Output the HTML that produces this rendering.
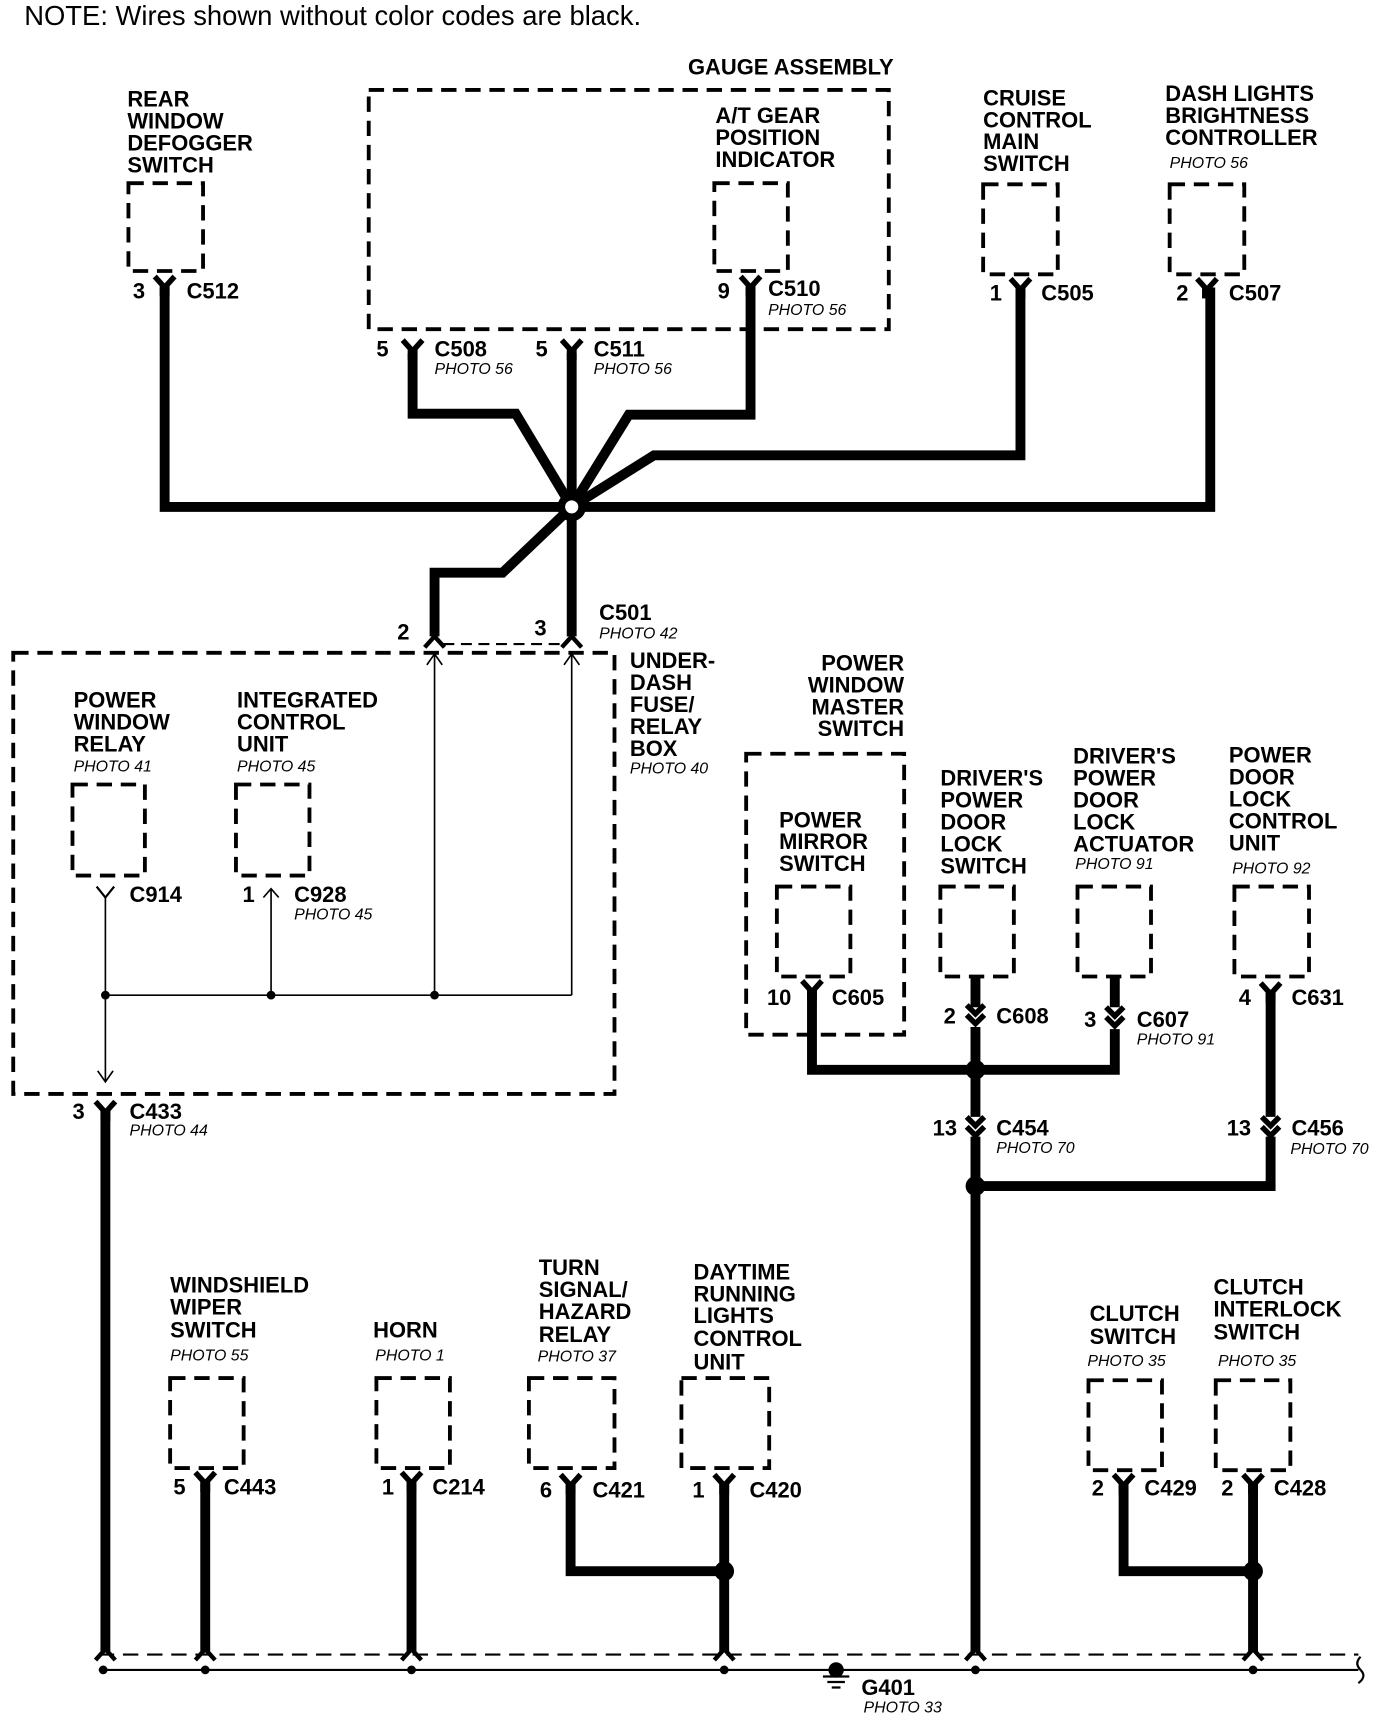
<!DOCTYPE html>
<html><head><meta charset="utf-8"><style>
html,body{margin:0;padding:0;background:#fff;}
svg{display:block;}
.b{font-family:"Liberation Sans",sans-serif;font-weight:bold;font-size:20px;fill:#000;}
.p{font-family:"Liberation Sans",sans-serif;font-style:italic;font-size:14.5px;fill:#000;}
.n{font-family:"Liberation Sans",sans-serif;font-size:25px;fill:#000;}
.box{fill:none;stroke:#000;stroke-width:3.5;stroke-dasharray:14 8;}
.w{fill:none;stroke:#000;stroke-width:9;stroke-linejoin:miter;}
.t{fill:none;stroke:#000;stroke-width:1.5;}
</style></head><body>
<svg width="1376" height="1716" viewBox="0 0 1254 1564" xmlns="http://www.w3.org/2000/svg">
<defs>
<g id="Y"><path d="M-9,-8 L0,2 L9,-8" fill="none" stroke="#000" stroke-width="5"/><rect x="-4.5" y="0" width="9" height="10" fill="#000"/></g>
<g id="YT"><path d="M-8,-10 L0,0 L8,-10" fill="none" stroke="#000" stroke-width="2"/></g>
<g id="DC"><path d="M-8,-10 L0,-2 L8,-10 M-8,-1 L0,7 L8,-1" fill="none" stroke="#000" stroke-width="5"/></g>
<g id="L"><path d="M-9,6 L0,-4 L9,6" fill="none" stroke="#000" stroke-width="4"/></g>
</defs>
<text class="n" x="22" y="23">NOTE: Wires shown without color codes are black.</text>

<text class="b" x="116" y="97">REAR</text><text class="b" x="116" y="117">WINDOW</text><text class="b" x="116" y="137">DEFOGGER</text><text class="b" x="116" y="157">SWITCH</text>
<rect class="box" x="117" y="167" width="68" height="80"/>
<use href="#Y" x="150" y="260"/>
<text class="b" x="121" y="272">3</text><text class="b" x="170" y="272">C512</text>

<text class="b" x="627" y="68">GAUGE ASSEMBLY</text>
<rect class="box" x="336" y="82" width="474" height="218"/>
<text class="b" x="652" y="112">A/T GEAR</text><text class="b" x="652" y="132">POSITION</text><text class="b" x="652" y="152">INDICATOR</text>
<rect class="box" x="651" y="167" width="67" height="80"/>
<use href="#Y" x="684" y="260"/>
<text class="b" x="654" y="272">9</text><text class="b" x="700" y="270">C510</text><text class="p" x="700" y="287">PHOTO 56</text>
<use href="#Y" x="376" y="318"/><text class="b" x="343" y="325">5</text><text class="b" x="396" y="325">C508</text><text class="p" x="396" y="341">PHOTO 56</text>
<use href="#Y" x="521" y="318"/><text class="b" x="488" y="325">5</text><text class="b" x="541" y="325">C511</text><text class="p" x="541" y="341">PHOTO 56</text>

<text class="b" x="896" y="96">CRUISE</text><text class="b" x="896" y="116">CONTROL</text><text class="b" x="896" y="136">MAIN</text><text class="b" x="896" y="156">SWITCH</text>
<rect class="box" x="896" y="168" width="68" height="82"/>
<use href="#Y" x="930" y="262"/><text class="b" x="902" y="274">1</text><text class="b" x="949" y="274">C505</text>

<text class="b" x="1062" y="92">DASH LIGHTS</text><text class="b" x="1062" y="112">BRIGHTNESS</text><text class="b" x="1062" y="132">CONTROLLER</text><text class="p" x="1066" y="153">PHOTO 56</text>
<rect class="box" x="1066" y="168" width="68" height="82"/>
<use href="#Y" x="1100" y="262"/><text class="b" x="1072" y="274">2</text><text class="b" x="1120" y="274">C507</text>

<path class="w" d="M150,262 V462 H1103 V262"/>
<path class="w" d="M376,322 V377 H470 L521,462"/>
<path class="w" d="M521,322 V462"/>
<path class="w" d="M684,262 V378 H573 L521,462"/>
<path class="w" d="M930,262 V415 H596 L521,462"/>
<path class="w" d="M521,462 L458,522 H396 V580"/>
<path class="w" d="M521,462 V580"/>
<circle cx="521" cy="462" r="13" fill="#000"/><circle cx="521" cy="462" r="6" fill="#fff"/>
<use href="#L" x="396" y="584"/><use href="#L" x="521" y="584"/>
<line x1="404" y1="587" x2="513" y2="587" stroke="#000" stroke-width="2" stroke-dasharray="10 6"/>
<text class="b" x="362" y="583">2</text><text class="b" x="487" y="579">3</text>
<text class="b" x="546" y="565">C501</text><text class="p" x="546" y="582">PHOTO 42</text>

<rect class="box" x="12" y="595" width="548" height="402"/>
<text class="b" x="574" y="609">UNDER-</text><text class="b" x="574" y="629">DASH</text><text class="b" x="574" y="649">FUSE/</text><text class="b" x="574" y="669">RELAY</text><text class="b" x="574" y="689">BOX</text><text class="p" x="574" y="705">PHOTO 40</text>
<text class="b" x="67" y="645">POWER</text><text class="b" x="67" y="665">WINDOW</text><text class="b" x="67" y="685">RELAY</text><text class="p" x="67" y="703">PHOTO 41</text>
<rect class="box" x="66" y="715" width="66" height="83"/>
<text class="b" x="216" y="645">INTEGRATED</text><text class="b" x="216" y="665">CONTROL</text><text class="b" x="216" y="685">UNIT</text><text class="p" x="216" y="703">PHOTO 45</text>
<rect class="box" x="215" y="715" width="67" height="83"/>
<use href="#YT" x="96" y="818"/><text class="b" x="118" y="822">C914</text>
<text class="b" x="221" y="822">1</text><path class="t" d="M240,818 L247,810 L254,818"/><text class="b" x="268" y="822">C928</text><text class="p" x="268" y="838">PHOTO 45</text>
<path class="t" d="M96,818 V985 M96,907 H521 M247,810 V907 M396,596 V907 M521,596 V907"/>
<path class="t" d="M89,976 L96,986 L103,976 M389,606 L396,596 L403,606 M514,606 L521,596 L528,606"/>
<circle cx="96" cy="907" r="4"/><circle cx="247" cy="907" r="4"/><circle cx="396" cy="907" r="4"/>
<use href="#Y" x="96" y="1012"/><text class="b" x="66" y="1020">3</text><text class="b" x="118" y="1020">C433</text><text class="p" x="118" y="1035">PHOTO 44</text>
<path class="w" d="M96,1012 V1505"/>

<text class="b" x="824" y="611" text-anchor="end">POWER</text><text class="b" x="824" y="631" text-anchor="end">WINDOW</text><text class="b" x="824" y="651" text-anchor="end">MASTER</text><text class="b" x="824" y="671" text-anchor="end">SWITCH</text>
<rect class="box" x="680" y="687" width="144" height="256"/>
<text class="b" x="710" y="754">POWER</text><text class="b" x="710" y="774">MIRROR</text><text class="b" x="710" y="794">SWITCH</text>
<rect class="box" x="708" y="808" width="67" height="82"/>
<use href="#Y" x="740" y="902"/><text class="b" x="699" y="916">10</text><text class="b" x="758" y="916">C605</text>

<text class="b" x="857" y="716">DRIVER'S</text><text class="b" x="857" y="736">POWER</text><text class="b" x="857" y="756">DOOR</text><text class="b" x="857" y="776">LOCK</text><text class="b" x="857" y="796">SWITCH</text>
<rect class="box" x="857" y="808" width="67" height="82"/>
<text class="b" x="978" y="696">DRIVER'S</text><text class="b" x="978" y="716">POWER</text><text class="b" x="978" y="736">DOOR</text><text class="b" x="978" y="756">LOCK</text><text class="b" x="978" y="776">ACTUATOR</text><text class="p" x="980" y="792">PHOTO 91</text>
<rect class="box" x="982" y="808" width="67" height="82"/>
<text class="b" x="1120" y="695">POWER</text><text class="b" x="1120" y="715">DOOR</text><text class="b" x="1120" y="735">LOCK</text><text class="b" x="1120" y="755">CONTROL</text><text class="b" x="1120" y="775">UNIT</text><text class="p" x="1123" y="796">PHOTO 92</text>
<rect class="box" x="1125" y="808" width="68" height="82"/>

<path class="w" d="M889,890 V918 M889,936 V1018 M889,1036 V1505"/>
<path class="w" d="M740,902 V975 H1016 V938 M1016,890 V918"/>
<path class="w" d="M1158,902 V1018 M1158,1036 V1081 H889"/>
<use href="#DC" x="889" y="926"/><use href="#DC" x="1016" y="928"/>
<use href="#DC" x="889" y="1028"/><use href="#DC" x="1158" y="1028"/>
<use href="#Y" x="1158" y="904"/>
<circle cx="889" cy="975" r="9"/><circle cx="889" cy="1081" r="9"/>
<text class="b" x="860" y="933">2</text><text class="b" x="908" y="933">C608</text>
<text class="b" x="988" y="936">3</text><text class="b" x="1036" y="936">C607</text><text class="p" x="1036" y="952">PHOTO 91</text>
<text class="b" x="1129" y="916">4</text><text class="b" x="1177" y="916">C631</text>
<text class="b" x="850" y="1035">13</text><text class="b" x="908" y="1035">C454</text><text class="p" x="908" y="1051">PHOTO 70</text>
<text class="b" x="1118" y="1035">13</text><text class="b" x="1177" y="1035">C456</text><text class="p" x="1176" y="1052">PHOTO 70</text>

<text class="b" x="155" y="1178">WINDSHIELD</text><text class="b" x="155" y="1198">WIPER</text><text class="b" x="155" y="1219">SWITCH</text><text class="p" x="155" y="1240">PHOTO 55</text>
<rect class="box" x="155" y="1256" width="67" height="82"/>
<use href="#Y" x="187" y="1350"/><text class="b" x="158" y="1362">5</text><text class="b" x="204" y="1362">C443</text>
<text class="b" x="340" y="1219">HORN</text><text class="p" x="342" y="1240">PHOTO 1</text>
<rect class="box" x="343" y="1256" width="67" height="82"/>
<use href="#Y" x="375" y="1350"/><text class="b" x="348" y="1362">1</text><text class="b" x="394" y="1362">C214</text>
<text class="b" x="491" y="1162">TURN</text><text class="b" x="491" y="1182">SIGNAL/</text><text class="b" x="491" y="1202">HAZARD</text><text class="b" x="491" y="1223">RELAY</text><text class="p" x="490" y="1241">PHOTO 37</text>
<rect class="box" x="482" y="1256" width="78" height="82"/>
<use href="#Y" x="520" y="1352"/><text class="b" x="492" y="1365">6</text><text class="b" x="540" y="1365">C421</text>
<text class="b" x="632" y="1166">DAYTIME</text><text class="b" x="632" y="1186">RUNNING</text><text class="b" x="632" y="1206">LIGHTS</text><text class="b" x="632" y="1227">CONTROL</text><text class="b" x="632" y="1248">UNIT</text>
<rect class="box" x="621" y="1256" width="80" height="82"/>
<use href="#Y" x="660" y="1352"/><text class="b" x="631" y="1365">1</text><text class="b" x="683" y="1365">C420</text>
<text class="b" x="993" y="1204">CLUTCH</text><text class="b" x="993" y="1225">SWITCH</text><text class="p" x="991" y="1245">PHOTO 35</text>
<rect class="box" x="992" y="1258" width="67" height="82"/>
<use href="#Y" x="1024" y="1352"/><text class="b" x="995" y="1363">2</text><text class="b" x="1043" y="1363">C429</text>
<text class="b" x="1106" y="1180">CLUTCH</text><text class="b" x="1106" y="1200">INTERLOCK</text><text class="b" x="1106" y="1221">SWITCH</text><text class="p" x="1110" y="1245">PHOTO 35</text>
<rect class="box" x="1108" y="1258" width="68" height="82"/>
<use href="#Y" x="1142" y="1352"/><text class="b" x="1113" y="1363">2</text><text class="b" x="1161" y="1363">C428</text>

<path class="w" d="M187,1352 V1505 M375,1352 V1505 M660,1352 V1505 M1142,1352 V1505"/>
<path class="w" d="M520,1352 V1432 H660 M1024,1352 V1432 H1142"/>
<circle cx="660" cy="1432" r="9"/><circle cx="1142" cy="1432" r="9"/>

<line x1="90" y1="1508" x2="1238" y2="1508" stroke="#000" stroke-width="2" stroke-dasharray="14 8"/>
<line x1="90" y1="1522" x2="1238" y2="1522" stroke="#000" stroke-width="2"/>
<use href="#L" x="96" y="1507"/><use href="#L" x="187" y="1507"/><use href="#L" x="375" y="1507"/><use href="#L" x="660" y="1507"/><use href="#L" x="889" y="1507"/><use href="#L" x="1142" y="1507"/>
<circle cx="94" cy="1522" r="4"/><circle cx="187" cy="1522" r="4"/><circle cx="375" cy="1522" r="4"/><circle cx="660" cy="1522" r="4"/><circle cx="889" cy="1522" r="4"/><circle cx="1142" cy="1522" r="4"/>
<path d="M1240,1510 q-6,6 0,12 q6,6 -2,12" fill="none" stroke="#000" stroke-width="2"/>
<circle cx="762" cy="1522" r="7"/>
<path d="M750,1528 H774 M754,1533 H770 M758,1538 H766" stroke="#000" stroke-width="2"/>
<text class="b" x="785" y="1545">G401</text><text class="p" x="787" y="1561">PHOTO 33</text>
</svg>
</body></html>
